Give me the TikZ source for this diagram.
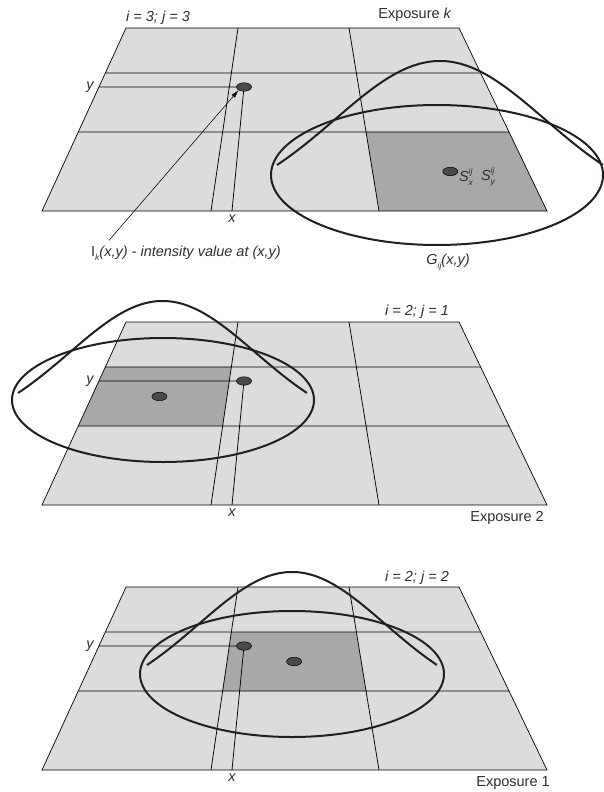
\documentclass[tikz,border=0pt]{standalone}
\usepackage{fontspec}
\setmainfont{Liberation Sans}
\usetikzlibrary{calc,arrows.meta,shapes.geometric}

\definecolor{sheetfill}{HTML}{DCDCDC}
\definecolor{cellfill}{HTML}{A8A8A8}
\definecolor{spotfill}{HTML}{4A4A4A}
\definecolor{labelink}{HTML}{2E2E2E}
\definecolor{curveink}{HTML}{231F20}

\tikzset{
  sheet/.style={fill=sheetfill},
  sheetedge/.style={draw=black,line width=0.7pt},
  cell/.style={fill=cellfill},
  gridline/.style={draw=black,line width=0.75pt},
  spot/.style={ellipse,draw=black,line width=0.5pt,fill=spotfill,
    minimum width=15pt,minimum height=8.5pt,inner sep=0pt},
  psf/.style={draw=curveink,line width=2pt},
  lbl/.style={text=labelink,inner sep=0pt,font=\fontsize{14.5}{17}\selectfont\itshape},
}

% stacked sub- and superscript
\newcommand\spotidx[2]{\rlap{\raisebox{0.5em}{\fontsize{8.5}{9}\selectfont#2}}\raisebox{-0.3em}{\fontsize{8.5}{9}\selectfont#1}}
\newcommand\lowidx[1]{\raisebox{-0.3em}{\fontsize{8.5}{9}\selectfont#1}}
% gaussian profile: centre x, half width, base line, height
\newcommand\psfbell[4]{\draw[psf] plot[domain=-1:1,samples=61,smooth,variable=\t]
  ({#1+#2*\t},{#3-#4*(exp(-1.2*\t*\t)-0.3012)/0.6988});}

\begin{document}
\begin{tikzpicture}[x=1pt,y=-1pt]
    \useasboundingbox (0,0) rectangle (604,792);

    % three exposures: offset / row / column of the shaded cell / name
    \foreach \yo/\ri/\cj/\nm in {28/3/3/k,322/2/1/2,587/2/2/1}{
    \begin{scope}[shift={(0,\yo)}]
        \coordinate (v0t) at (126,0); \coordinate (v0b) at (42,183);
        \coordinate (v1t) at (238,0); \coordinate (v1b) at (211,183);
        \coordinate (v2t) at (349,0); \coordinate (v2b) at (379,183);
        \coordinate (v3t) at (459,0); \coordinate (v3b) at (547,183);
        \coordinate (h1l) at ($(v0t)!0.2459!(v0b)$);
        \coordinate (h1r) at ($(v3t)!0.2459!(v3b)$);
        \coordinate (h2l) at ($(v0t)!0.5683!(v0b)$);
        \coordinate (h2r) at ($(v3t)!0.5683!(v3b)$);
        \coordinate (yl\nm) at ($(v0t)!0.3224!(v0b)$);
        \coordinate (xf\nm) at (232,183);
        \coordinate (pt\nm) at (244,59);

        \fill[sheet] (v0t) -- (v3t) -- (v3b) -- (v0b) -- cycle;

        % shaded cell
        \pgfmathtruncatemacro\ra{\ri-1}
        \pgfmathtruncatemacro\ca{\cj-1}
        \pgfmathsetmacro\fa{{0,0.2459,0.5683,1}[\ra]}
        \pgfmathsetmacro\fb{{0,0.2459,0.5683,1}[\ri]}
        \pgfmathsetmacro\fm{0.5*(\fa+\fb)}
        \fill[cell] ($(v\ca t)!\fa!(v\ca b)$) -- ($(v\cj t)!\fa!(v\cj b)$)
            -- ($(v\cj t)!\fb!(v\cj b)$) -- ($(v\ca t)!\fb!(v\ca b)$) -- cycle;
        \coordinate (cl) at ($(v\ca t)!\fm!(v\ca b)$);
        \coordinate (cr) at ($(v\cj t)!\fm!(v\cj b)$);

        \draw[gridline] (h1l) -- (h1r) (h2l) -- (h2r) (v1t) -- (v1b) (v2t) -- (v2b);
        \draw[sheetedge] (v0t) -- (v3t) -- (v3b) -- (v0b) -- cycle;
        \draw[gridline] (yl\nm) -- (pt\nm) -- (xf\nm);

        \node[spot] (spot\nm) at (pt\nm) {};
        \node[spot] (ctr\nm) at ($(cl)!0.5!(cr)$) {};
        \node[lbl,anchor=east] (ylbl\nm) at ([xshift=-5pt]yl\nm) {y};
        \node[lbl,below=4pt] (xlbl\nm) at (xf\nm) {x};
    \end{scope}
    }

    % exposure k
    \node[lbl] (ijk) at (158,18) {i = 3; j = 3};
    \node[lbl,font=\fontsize{14.5}{17}\selectfont] (expk) at (415,15) {Exposure \textit{k}};
    \node[lbl] (sxk) at (466,177) {S\spotidx{x}{ij}};
    \node[lbl] (syk) at (488,177) {S\spotidx{y}{ij}};
    \node[lbl] (gk) at (448,262) {G\lowidx{ij}(x,y)};
    \node[lbl] (ik) at (186,253) {\upshape I\lowidx{\itshape k}\itshape(x,y) - intensity value at (x,y)};
    \draw[-{Latex[length=8pt,width=4.5pt]},line width=0.55pt] ($(ik.north west)+(18,-5)$) -- (spotk.south west);
    \draw[psf] (437,175) ellipse [x radius=166, y radius=70];
    \psfbell{440}{163}{165}{104}

    % exposure 2
    \node[lbl] (ij2) at (417,312) {i = 2; j = 1};
    \node[lbl,font=\fontsize{14.5}{17}\selectfont] (exp2) at (507,518) {Exposure 2};
    \draw[psf] (163,400) ellipse [x radius=151, y radius=62];
    \psfbell{162.5}{144.5}{393}{92}

    % exposure 1
    \node[lbl] (ij1) at (417,578) {i = 2; j = 2};
    \node[lbl,font=\fontsize{14.5}{17}\selectfont] (exp1) at (513,783) {Exposure 1};
    \draw[psf] (292,674) ellipse [x radius=152, y radius=63];
    \psfbell{292}{145}{665}{93}
\end{tikzpicture}
\end{document}
